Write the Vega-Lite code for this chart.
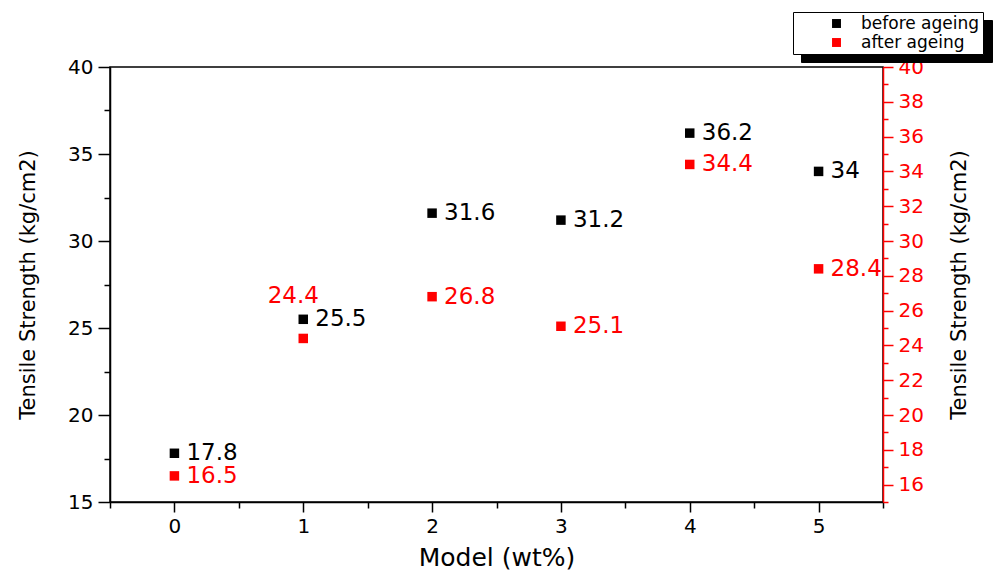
{
  "$schema": "https://vega.github.io/schema/vega-lite/v6.json",
  "width": 773,
  "height": 435,
  "autosize": {"type": "none"},
  "padding": {"left": 110, "top": 67, "right": 110, "bottom": 74},
  "background": "white",
  "config": {
    "font": "DejaVu Sans",
    "view": {"stroke": "black", "strokeWidth": 1.5},
    "axis": {
      "grid": false,
      "domainColor": "black",
      "domainWidth": 1.5,
      "tickColor": "black",
      "tickWidth": 1.5,
      "labelColor": "black",
      "labelFont": "DejaVu Sans",
      "labelFontSize": 20,
      "titleFont": "DejaVu Sans",
      "titleFontSize": 21,
      "titleFontWeight": "normal",
      "titleColor": "black"
    }
  },
  "data": {
    "values": [
      {"model": 0, "value": 17.8, "series": "before ageing"},
      {"model": 1, "value": 25.5, "series": "before ageing"},
      {"model": 2, "value": 31.6, "series": "before ageing"},
      {"model": 3, "value": 31.2, "series": "before ageing"},
      {"model": 4, "value": 36.2, "series": "before ageing"},
      {"model": 5, "value": 34, "series": "before ageing"},
      {"model": 0, "value": 16.5, "series": "after ageing"},
      {"model": 1, "value": 24.4, "series": "after ageing"},
      {"model": 2, "value": 26.8, "series": "after ageing"},
      {"model": 3, "value": 25.1, "series": "after ageing"},
      {"model": 4, "value": 34.4, "series": "after ageing"},
      {"model": 5, "value": 28.4, "series": "after ageing"}
    ]
  },
  "encoding": {
    "x": {
      "field": "model",
      "type": "quantitative",
      "scale": {"domain": [-0.5, 5.5], "nice": false, "zero": false},
      "axis": {
        "title": "Model (wt%)",
        "titleFontSize": 25,
        "values": [-0.5, 0, 0.5, 1, 1.5, 2, 2.5, 3, 3.5, 4, 4.5, 5, 5.5],
        "labelExpr": "datum.value % 1 === 0 ? format(datum.value, 'd') : ''",
        "tickSize": {"condition": {"test": "datum.value % 1 === 0", "value": 10}, "value": 6},
        "labelPadding": 4,
        "titlePadding": 9
      }
    }
  },
  "layer": [
    {
      "transform": [{"filter": "datum.series === 'before ageing'"}],
      "encoding": {
        "y": {
          "field": "value",
          "type": "quantitative",
          "scale": {"domain": [15, 40], "nice": false, "zero": false},
          "axis": {
            "orient": "left",
            "title": "Tensile Strength (kg/cm2)",
            "values": [15, 17.5, 20, 22.5, 25, 27.5, 30, 32.5, 35, 37.5, 40],
            "labelExpr": "datum.value % 5 === 0 ? datum.label : ''",
            "tickSize": {"condition": {"test": "datum.value % 5 === 0", "value": 12}, "value": 6},
            "labelPadding": 5,
            "titlePadding": 29
          }
        }
      },
      "layer": [
        {
          "mark": {"type": "square", "size": 90, "opacity": 1},
          "encoding": {
            "color": {
              "field": "series",
              "type": "nominal",
              "scale": {"domain": ["before ageing", "after ageing"], "range": ["#000000", "#ff0000"]},
              "legend": {
                "title": null,
                "orient": "none",
                "legendX": 683,
                "legendY": -55,
                "zindex": 2,
                "fillColor": "white",
                "strokeColor": "black",
                "padding": 3,
                "symbolType": "square",
                "symbolSize": 80,
                "symbolOffset": 32,
                "labelOffset": 16,
                "labelFontSize": 17,
                "labelFont": "DejaVu Sans",
                "labelColor": "black",
                "rowPadding": 1
              }
            },
            "opacity": {
              "field": "series",
              "type": "nominal",
              "scale": {"domain": ["after ageing", "before ageing"], "range": [1, 1]},
              "legend": {
                "title": null,
                "orient": "none",
                "legendX": 691,
                "legendY": -47,
                "zindex": 1,
                "fillColor": "black",
                "strokeColor": "black",
                "padding": 3,
                "symbolType": "square",
                "symbolSize": 80,
                "symbolOffset": 32,
                "symbolFillColor": "black",
                "symbolStrokeColor": "black",
                "labelOffset": 136,
                "labelFontSize": 17,
                "labelExpr": "''",
                "rowPadding": 1
              }
            }
          }
        },
        {
          "mark": {"type": "text", "align": "left", "baseline": "middle", "dx": 12, "fontSize": 23, "color": "black", "clip": true},
          "encoding": {
            "text": {"field": "value", "type": "quantitative"}
          }
        }
      ]
    },
    {
      "transform": [{"filter": "datum.series === 'after ageing'"}],
      "encoding": {
        "y": {
          "field": "value",
          "type": "quantitative",
          "scale": {"domain": [15, 40], "nice": false, "zero": false},
          "axis": {
            "orient": "right",
            "title": "Tensile Strength (kg/cm2)",
            "titleAngle": 270,
            "titleColor": "black",
            "values": [15, 16, 17, 18, 19, 20, 21, 22, 23, 24, 25, 26, 27, 28, 29, 30, 31, 32, 33, 34, 35, 36, 37, 38, 39, 40],
            "labelExpr": "datum.value % 2 === 0 ? datum.label : ''",
            "tickSize": {"condition": {"test": "datum.value % 2 === 0", "value": 10}, "value": 5},
            "domainColor": "#ff0000",
            "tickColor": "#ff0000",
            "labelColor": "#ff0000",
            "labelPadding": 5,
            "titlePadding": 46
          }
        }
      },
      "layer": [
        {
          "mark": {"type": "square", "size": 90, "opacity": 1},
          "encoding": {
            "color": {"field": "series", "type": "nominal"},
            "opacity": {"field": "series", "type": "nominal"}
          }
        },
        {
          "transform": [{"filter": "datum.model !== 1"}],
          "mark": {"type": "text", "align": "left", "baseline": "middle", "dx": 12, "fontSize": 23, "color": "#ff0000", "clip": true},
          "encoding": {
            "text": {"field": "value", "type": "quantitative"}
          }
        },
        {
          "transform": [{"filter": "datum.model === 1"}],
          "mark": {"type": "text", "align": "center", "baseline": "middle", "dx": -10, "dy": -42, "fontSize": 23, "color": "#ff0000", "clip": true},
          "encoding": {
            "text": {"field": "value", "type": "quantitative"}
          }
        }
      ]
    }
  ],
  "resolve": {"scale": {"y": "independent"}, "axis": {"y": "independent"}}
}
